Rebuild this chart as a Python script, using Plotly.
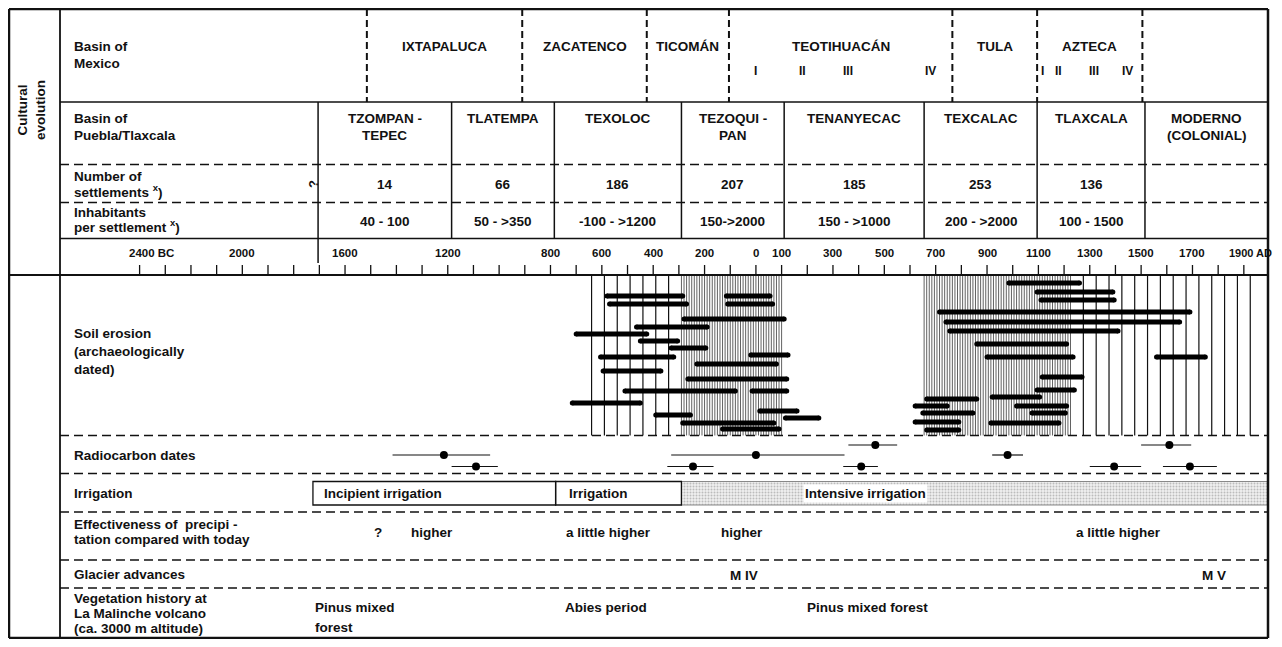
import plotly.graph_objects as go

# ------------------------------------------------------------------ data
# time axis (negative years = BC)
tick_years = list(range(-2400, 1901, 100))
axis_label_years = [-2400, -2000, -1600, -1200, -800, -600, -400, -200, 0, 100,
                    300, 500, 700, 900, 1100, 1300, 1500, 1700, 1900]
axis_label_texts = ["2400 BC", "2000", "1600", "1200", "800", "600", "400", "200",
                    "0", "100", "300", "500", "700", "900", "1100", "1300", "1500",
                    "1700", "1900 AD"]

# Basin of Mexico phases (boundaries in years)
mexico_bounds = [-1515, -910, -425, -105, 765, 1095, 1505]
mexico_phases = ["IXTAPALUCA", "ZACATENCO", "TICOMÁN", "TEOTIHUACÁN", "TULA", "AZTECA"]
subphase_years = [0, 180, 360, 680, 1115, 1180, 1315, 1445]
subphase_labels = ["I", "II", "III", "IV", "I", "II", "III", "IV"]

# Basin of Puebla/Tlaxcala phases
puebla_bounds = [-1705, -1185, -785, -290, 110, 655, 1095, 1515, 1995]
puebla_phases = ["TZOMPAN -\nTEPEC", "TLATEMPA", "TEXOLOC", "TEZOQUI -\nPAN",
                 "TENANYECAC", "TEXCALAC", "TLAXCALA", "MODERNO\n(COLONIAL)"]
settlements = ["14", "66", "186", "207", "185", "253", "136", ""]
inhabitants = ["40 - 100", "50 - >350", "-100 - >1200", "150->2000",
               "150 - >1000", "200 - >2000", "100 - 1500", ""]

# Soil erosion (archaeologically dated): start year, end year, depth below panel top
erosion_start = [-580, -115, -570, -110, -280, -465, -700, -450, -330, -20, -605,
                 -230, -595, -265, -510, -15, -715, 15, -390, 115, -285, -130,
                 985, 1095, 1110, 715, 740, 755, 860, 900, 1560, 1115, 1095, 920,
                 665, 620, 1015, 650, 1075, 620, 915, 665]
erosion_end = [-285, 55, -270, 65, 110, -190, -425, -305, -195, 125, -320,
               80, -370, 120, -80, 120, -450, 160, -255, 245, 70, 90,
               1260, 1390, 1395, 1690, 1650, 1410, 1210, 1235, 1750, 1270, 1240, 1105,
               860, 745, 1210, 845, 1205, 790, 1180, 790]
erosion_depth = [21, 21, 29, 29, 44, 52, 59, 66, 73, 80, 82,
                 89, 96, 104, 116, 116, 128, 136, 140, 143, 148, 154,
                 8, 17, 25, 37, 47, 56, 69, 82, 82, 102, 115, 122,
                 124, 131, 131, 138, 138, 147, 148, 155]
# hatched intervals in the erosion panel
dense_periods = [(-290, 105), (655, 1230)]
sparse_periods = [(-640, -340), (1275, 1950)]

# Radiocarbon dates: centre, lower, upper, row
c14_year = [-1215, -1090, 0, -245, 465, 410, 980, 1610, 1395, 1690]
c14_lo = [-1415, -1185, -330, -345, 360, 340, 920, 1500, 1300, 1585]
c14_hi = [-1035, -1005, 345, -165, 550, 475, 1040, 1695, 1500, 1795]
c14_row = [2, 3, 2, 3, 1, 3, 2, 1, 3, 3]

# Irrigation
irr_start = [-1725, -780, -290]
irr_end = [-780, -290, 1995]
irr_label = ["Incipient irrigation", "Irrigation", "Intensive irrigation"]
irr_label_year = [-1690, -735, 185]

# Effectiveness of precipitation
precip_year = [-1470, -1260, -575, -55, 1410]
precip_text = ["?", "higher", "a little higher", "higher", "a little higher"]

# Glacier advances
glacier_year = [-45, 1785]
glacier_text = ["M IV", "M V"]

# Vegetation history
veg_year = [-1725, -750, 190]
veg_text = ["Pinus mixed\nforest", "Abies period", "Pinus mixed forest"]

# ------------------------------------------------------------------ geometry / style
OFF = 8                 # page body margin
W, H = 1266, 631
PX0, PXY = 139.6, 0.2568   # page px of 2400 BC, px per year
INK = "#111111"
FONT = "Liberation Sans, Arial, Helvetica, sans-serif"
FS = 13.5


def X(px):
    return (px - PX0) / PXY - 2400


L, R, T, B = 9, 1268, 9, 638
COL = 60
Y_MEX, Y_PUE, Y_SET, Y_INH, Y_AX = 102, 164.5, 202.5, 238.5, 275
Y_ERO, Y_RAD, Y_IRR, Y_PRE, Y_GLA = 435.5, 473.5, 512, 560, 588
TEXT_X = 72

shapes, annotations = [], []


def line(x0, y0, x1, y1, w=1.5, dash="solid", color=INK):
    shapes.append(dict(type="line", xref="x", yref="y", x0=x0, y0=y0, x1=x1, y1=y1,
                       line=dict(color=color, width=w, dash=dash), layer="above"))


def text(x, y, s, size=FS, anchor="center", angle=0, bg=None, xshift=0):
    if not s:
        return
    a = dict(x=x, y=y, xref="x", yref="y", text=s, showarrow=False, xanchor=anchor,
             yanchor="middle", textangle=angle, xshift=xshift,
             font=dict(family=FONT, size=size, color=INK, weight="bold"))
    if bg:
        a["bgcolor"] = bg
    annotations.append(a)


def lines(x, y, s, step, **kw):
    for i, part in enumerate(s.split("\n")):
        text(x, y + i * step, part, **kw)


DASH_H = "9px,5px"
DASH_V = "7px,4px"

# outer frame and main dividers
line(X(L), T, X(R), T, w=2.5)
line(X(L), B, X(R), B, w=2.5)
line(X(L), T, X(L), B, w=2.5)
line(X(R), T, X(R), B, w=2.5)
line(X(COL), T, X(COL), B, w=1.8)
line(X(L), Y_AX, X(R), Y_AX, w=1.8)
line(X(COL), Y_MEX, X(R), Y_MEX, w=1.5)
line(X(COL), Y_PUE, X(R), Y_PUE, w=1.4, dash=DASH_H)
line(X(COL), Y_SET, X(R), Y_SET, w=1.4, dash=DASH_H)
line(X(COL), Y_INH, X(R), Y_INH, w=1.5)
for yy in (Y_ERO, Y_RAD, Y_IRR, Y_PRE, Y_GLA):
    line(X(COL), yy, X(R), yy, w=1.4, dash=DASH_H)

# cultural evolution rows
text(X(31), 110, "Cultural<br>evolution", angle=-90)
lines(X(TEXT_X), 46, "Basin of\nMexico", 17, anchor="left")
lines(X(TEXT_X), 118, "Basin of\nPuebla/Tlaxcala", 17, anchor="left")
lines(X(TEXT_X), 176, "Number of\nsettlements <sup>x</sup>)", 15, anchor="left")
lines(X(TEXT_X), 212, "Inhabitants\nper settlement <sup>x</sup>)", 14, anchor="left")

for b in mexico_bounds:
    line(b, T, b, Y_MEX, w=2, dash=DASH_V)
for i, name in enumerate(mexico_phases):
    text((mexico_bounds[i] + mexico_bounds[i + 1]) / 2, 46, name)
for yv, lab in zip(subphase_years, subphase_labels):
    text(yv, 71, lab, size=12)

for b in puebla_bounds[:-1]:
    line(b, Y_MEX, b, Y_INH, w=1.5)
line(puebla_bounds[0], Y_INH, puebla_bounds[0], Y_AX - 12, w=1.5)
text(X(313), 184, "?", size=13, angle=-90)
for i, name in enumerate(puebla_phases):
    cx = (puebla_bounds[i] + puebla_bounds[i + 1]) / 2
    lines(cx, 118, name, 17)
    text(cx, 184, settlements[i])
    text(cx, 221, inhabitants[i])

# time axis
for t in tick_years:
    line(t, Y_AX - 10, t, Y_AX, w=1.3)
for yv, lab in zip(axis_label_years, axis_label_texts):
    if lab.endswith("AD"):
        text(yv, 253, lab, size=11, xshift=7)
    elif lab.endswith("BC"):
        text(yv, 253, lab, size=11.5, xshift=12)
    else:
        text(yv, 253, lab, size=11.5)

# left labels of lower panels
lines(X(TEXT_X), 333, "Soil erosion\n(archaeologically\ndated)", 18, anchor="left")
text(X(TEXT_X), 455, "Radiocarbon dates", anchor="left")
text(X(TEXT_X), 493, "Irrigation", anchor="left")
lines(X(TEXT_X), 524, "Effectiveness of  precipi -\ntation compared with today", 15, anchor="left")
text(X(TEXT_X), 574, "Glacier advances", anchor="left")
lines(X(TEXT_X), 598, "Vegetation history at\nLa Malinche volcano\n(ca. 3000 m altitude)", 15,
      anchor="left")

traces = []

# hatching in erosion panel
hx, hy = [], []
for a, b in dense_periods:
    yv = a
    while yv <= b:
        hx += [yv, yv, None]
        hy += [Y_AX, Y_ERO, None]
        yv += 10
traces.append(go.Scatter(x=hx, y=hy, mode="lines", line=dict(color="#3a3a3a", width=0.8),
                         hoverinfo="skip"))
sx, sy = [], []
for a, b in sparse_periods:
    yv = a
    while yv <= b:
        sx += [yv, yv, None]
        sy += [Y_AX, Y_ERO, None]
        yv += 50
traces.append(go.Scatter(x=sx, y=sy, mode="lines", line=dict(color=INK, width=1.2),
                         hoverinfo="skip"))

# erosion bars
ex, ey = [], []
for a, b, d in zip(erosion_start, erosion_end, erosion_depth):
    ex += [a, b, None]
    ey += [Y_AX + d, Y_AX + d, None]
traces.append(go.Scatter(x=ex, y=ey, mode="lines+markers",
                         line=dict(color="black", width=5),
                         marker=dict(size=5, color="black"), hoverinfo="skip"))

# radiocarbon dates
ROWS = {1: 445, 2: 455, 3: 466.5}
rx, ry = [], []
for lo, hi, r in zip(c14_lo, c14_hi, c14_row):
    rx += [lo, hi, None]
    ry += [ROWS[r], ROWS[r], None]
traces.append(go.Scatter(x=rx, y=ry, mode="lines", line=dict(color=INK, width=1.2),
                         hoverinfo="skip"))
traces.append(go.Scatter(x=c14_year, y=[ROWS[r] for r in c14_row], mode="markers",
                         marker=dict(size=8, color="black"), hoverinfo="skip"))

# irrigation
IT, IB = 481.5, 505
for i, (a, b) in enumerate(zip(irr_start, irr_end)):
    if i < 2:
        shapes.append(dict(type="rect", xref="x", yref="y", x0=a, x1=b, y0=IT, y1=IB,
                           line=dict(color=INK, width=1.3), fillcolor="rgba(0,0,0,0)"))
    else:
        traces.append(go.Scatter(x=[a, b, b, a, a], y=[IT, IT, IB, IB, IT], mode="lines",
                                 fill="toself", line=dict(color="#888", width=1),
                                 fillcolor="#e4e4e4",
                                 fillpattern=dict(shape=".", size=3, solidity=0.35,
                                                  fgcolor="#8a8a8a", bgcolor="#efefef"),
                                 hoverinfo="skip"))
for yv, lab, i in zip(irr_label_year, irr_label, range(3)):
    text(yv, 493, lab, anchor="left", bg="white" if i == 2 else None)

for yv, lab in zip(precip_year, precip_text):
    text(yv, 532, lab)
for yv, lab in zip(glacier_year, glacier_text):
    text(yv, 575, lab)
for yv, lab in zip(veg_year, veg_text):
    lines(yv, 607, lab, 20, anchor="left")

fig = go.Figure(traces)
fig.update_layout(
    width=W, height=H, margin=dict(l=0, r=0, t=0, b=0),
    paper_bgcolor="white", plot_bgcolor="white", showlegend=False,
    xaxis=dict(range=[X(OFF), X(OFF + W)], visible=False, fixedrange=True),
    yaxis=dict(range=[OFF + H, OFF], visible=False, fixedrange=True),
    shapes=shapes, annotations=annotations,
)
fig.write_html("out.html")
